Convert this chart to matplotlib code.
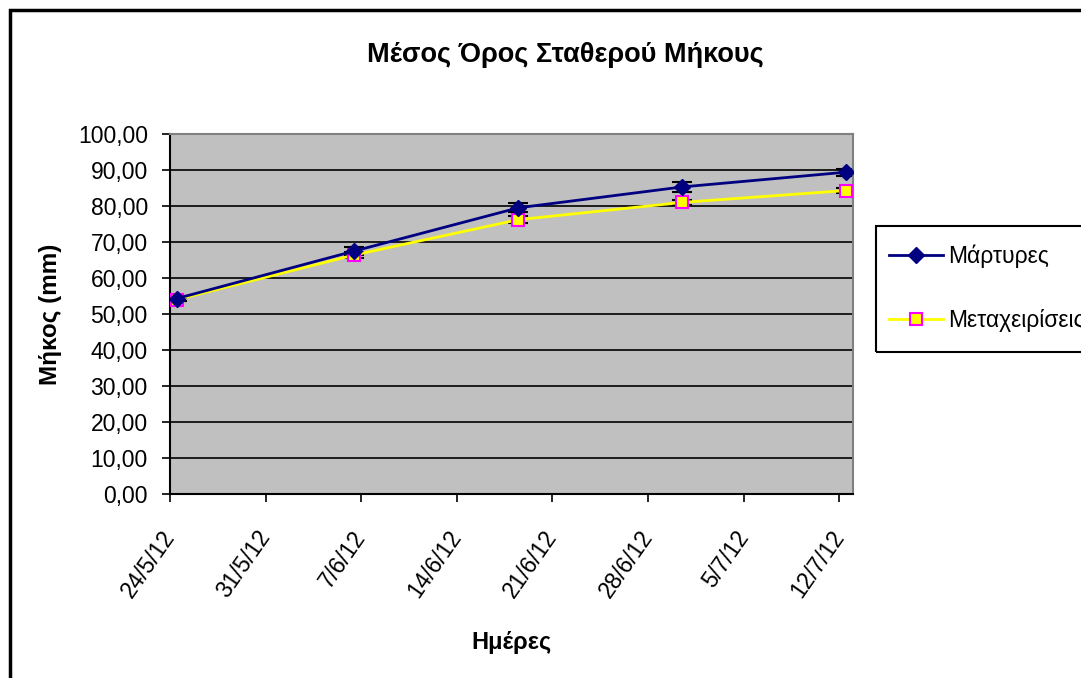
import datetime as dt

import matplotlib
matplotlib.use('Agg')
import matplotlib.pyplot as plt
import matplotlib.dates as mdates
from matplotlib.patches import Rectangle
from matplotlib.ticker import FuncFormatter, MultipleLocator

plt.rcParams['font.family'] = ['Liberation Sans', 'DejaVu Sans']

# δεδομένα
dates = ['2012-05-24', '2012-06-06', '2012-06-18', '2012-06-30', '2012-07-12']
martyres = [54.3, 67.5, 79.5, 85.3, 89.4]
martyres_err = [0.6, 1.0, 1.3, 1.3, 1.0]
metaxeiriseis = [54.0, 66.4, 76.2, 81.0, 84.3]
metaxeiriseis_err = [0.5, 0.8, 0.9, 0.8, 0.7]
labels = ['Μάρτυρες', 'Μεταχειρίσεις']

x = [mdates.date2num(dt.date.fromisoformat(d)) + 0.5 for d in dates]

fig = plt.figure(figsize=(10.81, 6.78), dpi=100)
ax = fig.add_axes([170 / 1081, 1 - 494 / 678, 683 / 1081, 360 / 678])
ax.set_facecolor('#C0C0C0')

ax.errorbar(x, martyres, yerr=martyres_err, fmt='none', ecolor='black',
            elinewidth=1.5, capsize=7, capthick=1.5, zorder=2)
ax.errorbar(x, metaxeiriseis, yerr=metaxeiriseis_err, fmt='none', ecolor='black',
            elinewidth=1.5, capsize=7, capthick=1.5, zorder=2)
ax.plot(x, martyres, color='#000080', lw=2, marker='D', ms=8.5,
        mfc='#000080', mec='#000080', label=labels[0], zorder=4)
ax.plot(x, metaxeiriseis, color='#FFFF00', lw=2, marker='s', ms=9,
        mfc='#FFFF00', mec='#FF00FF', mew=1.5, label=labels[1], zorder=3)

start = mdates.date2num(dt.date(2012, 5, 24))
ax.set_xlim(start, start + 50)
ax.set_ylim(0, 100)
ax.xaxis.set_major_locator(MultipleLocator(7, offset=start % 7))
ax.xaxis.set_major_formatter(FuncFormatter(
    lambda v, p: '{d.day}/{d.month}/{y}'.format(d=mdates.num2date(v), y=mdates.num2date(v).strftime('%y'))))
ax.yaxis.set_major_locator(MultipleLocator(10))
ax.yaxis.set_major_formatter(FuncFormatter(lambda v, p: '{:.2f}'.format(v).replace('.', ',')))
ax.grid(axis='y', color='black', lw=1.2)
ax.set_axisbelow(True)

for s in ['top', 'right']:
    ax.spines[s].set_color('#808080')
    ax.spines[s].set_linewidth(1.5)
for s in ['bottom', 'left']:
    ax.spines[s].set_color('black')
    ax.spines[s].set_linewidth(1.5)

ax.tick_params(axis='both', direction='out', length=6, width=1.2, labelsize=16.5)
ax.tick_params(axis='y', pad=10)
ax.tick_params(axis='x', pad=22)
for t in ax.get_xticklabels():
    t.set_rotation(55)
    t.set_ha('right')
    t.set_va('center')
    t.set_rotation_mode('anchor')

fig.text(565 / 1081, 1 - 55 / 678, 'Μέσος Όρος Σταθερού Μήκους', ha='center', va='center',
         fontsize=19.5, fontweight='bold')
fig.text(511 / 1081, 1 - 643 / 678, 'Ημέρες', ha='center', va='center',
         fontsize=17, fontweight='bold')
fig.text(50 / 1081, 1 - 314 / 678, 'Μήκος (mm)', ha='center', va='center',
         rotation=90, fontsize=17.5, fontweight='bold')

leg = fig.legend(loc='upper left', bbox_to_anchor=(889 / 1081, 1 - 245 / 678),
                 fontsize=16.5, frameon=False, borderpad=0, labelspacing=1.75,
                 handlelength=2.35, handletextpad=0.25, borderaxespad=0)

# πλαίσιο υπομνήματος και γραφήματος
fig.patches.append(Rectangle((876 / 1081, 1 - 352 / 678), 0.2, 126 / 678,
                             transform=fig.transFigure, fill=False,
                             edgecolor='black', lw=1.5))
fig.patches.append(Rectangle((9.5 / 1081, -0.1), 1.2, 1 - 10.5 / 678 + 0.1,
                             transform=fig.transFigure, fill=False,
                             edgecolor='black', lw=2.5))

fig.savefig('out.png', dpi=100)
